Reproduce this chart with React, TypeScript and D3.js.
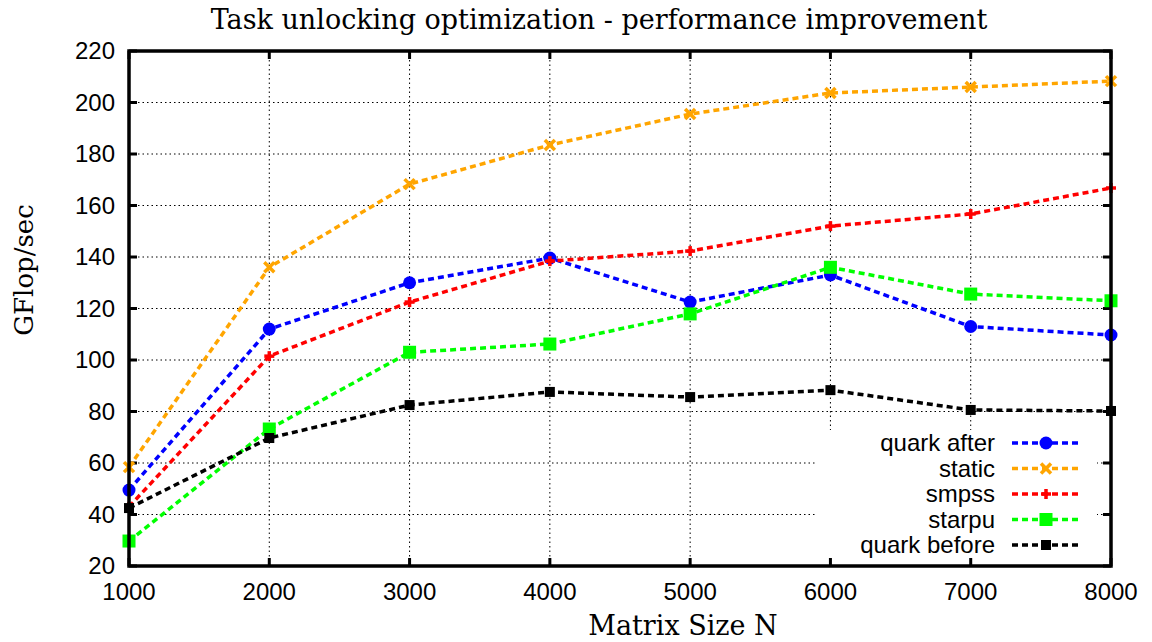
import React from 'react';
import * as d3 from 'd3';

const sizes = [1000, 2000, 3000, 4000, 5000, 6000, 7000, 8000];
const quarkAfter = [49.5, 112, 130, 139.6, 122.5, 133, 113, 109.7];
const staticSched = [58.4, 136, 168.3, 183.5, 195.5, 203.7, 206, 208.3];
const smpss = [43, 101.5, 122.5, 138.4, 142.3, 152, 156.7, 166.8];
const starpu = [29.7, 73.2, 103, 106.2, 117.9, 136, 125.6, 123];
const quarkBefore = [42.5, 69.7, 82.5, 87.6, 85.6, 88.3, 80.6, 80.2];
const yTicks = [20, 40, 60, 80, 100, 120, 140, 160, 180, 200, 220];

const series = [
  { name: 'quark after', values: quarkAfter, color: '#0000ff', marker: 'circle' },
  { name: 'static', values: staticSched, color: '#ffa500', marker: 'cross' },
  { name: 'smpss', values: smpss, color: '#ff0000', marker: 'plus' },
  { name: 'starpu', values: starpu, color: '#00ff00', marker: 'bigsquare' },
  { name: 'quark before', values: quarkBefore, color: '#000000', marker: 'square' },
];

const W = 1152;
const H = 642;
const left = 129;
const right = 1111;
const top = 51;
const bottom = 566;

const sans = '"Liberation Sans", Arial, sans-serif';
const serif = '"DejaVu Serif", "Liberation Serif", serif';

function Marker({ type, x, y, color }: { type: string; x: number; y: number; color: string }) {
  if (type === 'circle') return <circle cx={x} cy={y} r={6.5} fill={color} />;
  if (type === 'bigsquare') return <rect x={x - 6.5} y={y - 6.5} width={13} height={13} fill={color} />;
  if (type === 'square') return <rect x={x - 5} y={y - 5} width={10} height={10} fill={color} />;
  if (type === 'cross')
    return (
      <g stroke={color} strokeWidth={3.5}>
        <line x1={x - 5} y1={y - 5} x2={x + 5} y2={y + 5} />
        <line x1={x - 5} y1={y + 5} x2={x + 5} y2={y - 5} />
      </g>
    );
  return (
    <g stroke={color} strokeWidth={3.5}>
      <line x1={x - 5} y1={y} x2={x + 5} y2={y} />
      <line x1={x} y1={y - 5} x2={x} y2={y + 5} />
    </g>
  );
}

export default function App() {
  const x = d3.scaleLinear().domain([1000, 8000]).range([left, right]);
  const y = d3.scaleLinear().domain([20, 220]).range([bottom, top]);
  const line = d3
    .line<number>()
    .x((d, i) => x(sizes[i]))
    .y((d) => y(d));

  // legend box (white, hides grid)
  const lgX = 815;
  const lgY = 430;
  const lgRow = 25.5;

  return (
    <svg width={W} height={H} style={{ position: 'absolute', left: 0, top: 0, background: '#fff' }}>
      {/* grid */}
      <g stroke="#000" strokeWidth={1} strokeDasharray="1.5,3">
        {yTicks.slice(1, -1).map((t) => (
          <line key={'gy' + t} x1={left} x2={right} y1={y(t)} y2={y(t)} />
        ))}
        {sizes.slice(1, -1).map((s) => (
          <line key={'gx' + s} x1={x(s)} x2={x(s)} y1={top} y2={bottom} />
        ))}
      </g>
      <rect x={lgX} y={lgY} width={282} height={bottom - lgY - 3} fill="#fff" />

      {/* ticks */}
      <g stroke="#000" strokeWidth={3}>
        {yTicks.map((t) => (
          <g key={'ty' + t}>
            <line x1={left} x2={left + 8} y1={y(t)} y2={y(t)} />
            <line x1={right} x2={right - 8} y1={y(t)} y2={y(t)} />
          </g>
        ))}
        {sizes.map((s) => (
          <g key={'tx' + s}>
            <line x1={x(s)} x2={x(s)} y1={bottom} y2={bottom - 8} />
            <line x1={x(s)} x2={x(s)} y1={top} y2={top + 8} />
          </g>
        ))}
      </g>

      {/* tick labels */}
      <g fontFamily={sans} fontSize={24} fill="#000">
        {yTicks.map((t) => (
          <text key={'ly' + t} x={left - 14} y={y(t)} dy="0.35em" textAnchor="end">
            {t}
          </text>
        ))}
        {sizes.map((s) => (
          <text key={'lx' + s} x={x(s)} y={bottom + 34} textAnchor="middle">
            {s}
          </text>
        ))}
      </g>

      {/* series */}
      {series.map((s) => (
        <g key={s.name}>
          <path
            d={line(s.values) || ''}
            fill="none"
            stroke={s.color}
            strokeWidth={3.5}
            strokeDasharray="6,4"
          />
          {s.values.map((v, i) => (
            <Marker key={i} type={s.marker} x={x(sizes[i])} y={y(v)} color={s.color} />
          ))}
        </g>
      ))}

      {/* legend */}
      {series.map((s, i) => {
        const cy = 443 + i * lgRow;
        return (
          <g key={'lg' + s.name}>
            <text x={995} y={cy} dy="0.35em" textAnchor="end" fontFamily={sans} fontSize={24}>
              {s.name}
            </text>
            <line x1={1012} x2={1080} y1={cy} y2={cy} stroke={s.color} strokeWidth={3.5} strokeDasharray="6,4" />
            <Marker type={s.marker} x={1046} y={cy} color={s.color} />
          </g>
        );
      })}

      {/* frame */}
      <rect x={left} y={top} width={right - left} height={bottom - top} fill="none" stroke="#000" strokeWidth={3.5} />

      {/* titles */}
      <text x={599} y={29} textAnchor="middle" fontFamily={serif} fontSize={27}>
        Task unlocking optimization - performance improvement
      </text>
      <text x={683} y={635} textAnchor="middle" fontFamily={serif} fontSize={27}>
        Matrix Size N
      </text>
      <text
        transform="translate(33, 270) rotate(-90)"
        textAnchor="middle"
        fontFamily={serif}
        fontSize={26}
      >
        GFlop/sec
      </text>
    </svg>
  );
}
